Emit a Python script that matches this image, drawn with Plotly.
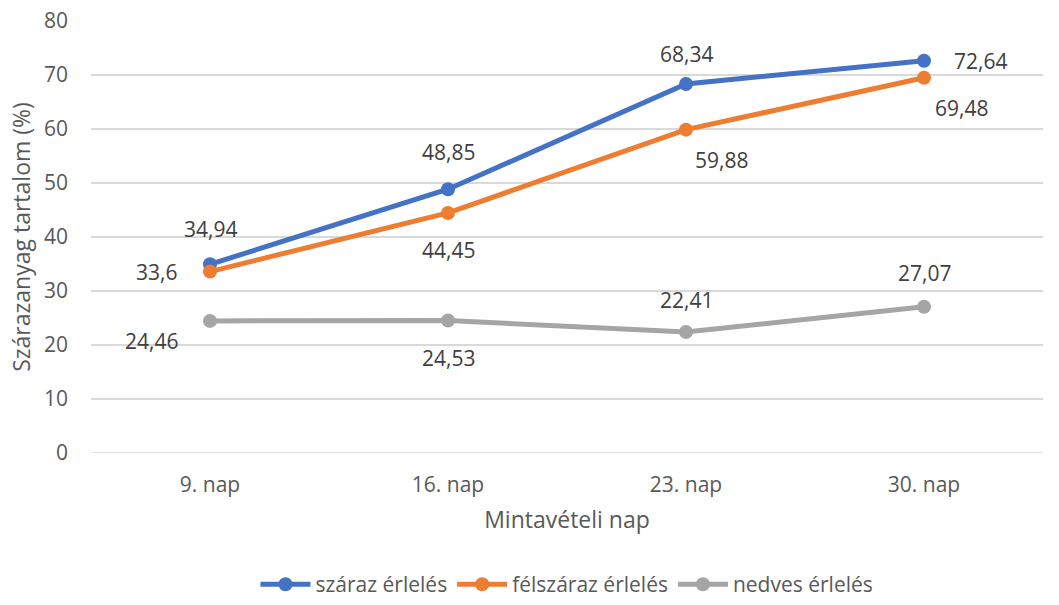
import plotly.graph_objects as go

days = ["9. nap", "16. nap", "23. nap", "30. nap"]
szaraz = [34.94, 48.85, 68.34, 72.64]
felszaraz = [33.6, 44.45, 59.88, 69.48]
nedves = [24.46, 24.53, 22.41, 27.07]

series = [
    ("száraz érlelés", szaraz, "#4472C4"),
    ("félszáraz érlelés", felszaraz, "#ED7D31"),
    ("nedves érlelés", nedves, "#A5A5A5"),
]

# label offsets (px) per series and point
offsets = {
    "száraz érlelés": [(0, 35), (0, 37), (0, 30), (56, 0)],
    "félszáraz érlelés": [(-54, 0), (0, -37), (35, -30), (37, -30)],
    "nedves érlelés": [(-59, -20), (0, -37), (0, 32), (0, 34)],
}

FONT = "Open Sans, sans-serif"
TXT = "#595959"
LBL = "#404040"

fig = go.Figure()
for name, vals, col in series:
    fig.add_trace(go.Scatter(
        x=days, y=vals, name=name, mode="lines+markers",
        line=dict(color=col, width=5),
        marker=dict(color=col, size=14),
    ))
    for d, v, (dx, dy) in zip(days, vals, offsets[name]):
        fig.add_annotation(
            x=d, y=v, text=f"{v:g}".replace(".", ","), showarrow=False,
            xshift=dx, yshift=dy, font=dict(family=FONT, size=21, color=LBL),
        )

fig.update_layout(
    width=1059, height=605,
    margin=dict(l=91, r=16, t=21, b=152, autoexpand=False),
    paper_bgcolor="white", plot_bgcolor="white",
    font=dict(family=FONT, size=20, color=TXT),
    showlegend=True,
    legend=dict(orientation="h", x=0.5, xanchor="center", y=-0.352, yanchor="bottom",
                font=dict(family=FONT, size=21, color=TXT), itemwidth=50,
                traceorder="normal"),
    xaxis=dict(
        type="category", range=[-0.5, 3.5], showgrid=False, zeroline=False,
        showline=False, ticks="", tickfont=dict(size=21, color=TXT),
        ticklabelstandoff=17,
        title=dict(text="Mintavételi nap", font=dict(size=23, color=TXT), standoff=14),
    ),
    yaxis=dict(
        range=[0, 80], dtick=10, showgrid=True, gridcolor="#D9D9D9", gridwidth=1.5,
        zeroline=False, showline=False, ticks="", tickfont=dict(size=21, color=TXT),
        ticklabelstandoff=22,
        title=dict(text="Szárazanyag tartalom (%)", font=dict(size=23, color=TXT), standoff=6),
    ),
)
fig.add_shape(type="line", xref="paper", yref="y", x0=0, x1=1, y0=0, y1=0,
              line=dict(color="#D9D9D9", width=1.5), layer="below")

fig.write_html("out.html")
